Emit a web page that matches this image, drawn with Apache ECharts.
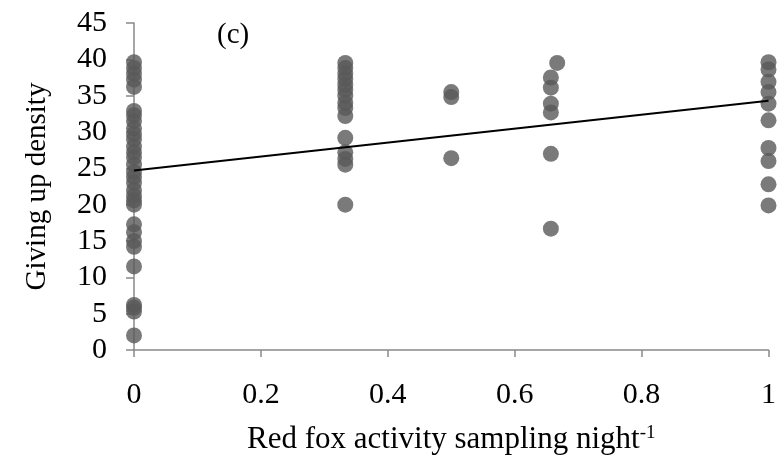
<!DOCTYPE html>
<html>
<head>
<meta charset="utf-8">
<script src="https://cdn.jsdelivr.net/npm/echarts@6/dist/echarts.min.js"></script>
<style>html,body{margin:0;padding:0;background:#fff;}#c{width:779px;height:460px;}</style>
</head>
<body>
<div id="c"></div>
<script>
// Fox activity levels (x) and giving up densities (y)
const x0 = 0;
const y0 = [39.6, 38.8, 38, 37.2, 36.2, 32.9, 32.3, 31.5, 30.5, 29.7, 29, 28, 27.2, 26.5, 25.5, 24.5, 23.8, 23, 22, 21.2, 20.6, 20, 17.3, 16.2, 15, 14.2, 11.5, 6.2, 5.8, 5.3, 2.0];
const x1 = 0.333;
const y1 = [39.5, 38.8, 38, 37.3, 36.5, 35.8, 35, 34, 33.3, 32.2, 29.2, 27.2, 26.3, 25.5, 20];
const x2 = 0.5;
const y2 = [35.5, 34.8, 26.4];
const x3 = 0.657;
const y3 = [37.5, 36.1, 33.9, 32.7, 27.0, 16.7];
const x4 = 0.667;
const y4 = [39.5];
const x5 = 1;
const y5 = [39.6, 38.6, 36.9, 35.5, 33.9, 31.6, 27.8, 26.0, 22.8, 19.9];
const trendX = [0, 1];
const trendY = [24.7, 34.3];
const xTicks = [0, 0.2, 0.4, 0.6, 0.8, 1];
const yTicks = [0, 5, 10, 15, 20, 25, 30, 35, 40, 45];

const groups = [[x0, y0], [x1, y1], [x2, y2], [x3, y3], [x4, y4], [x5, y5]];
const pts = [];
groups.forEach(([x, ys]) => ys.forEach(y => pts.push([x, y])));

const font = '"Liberation Serif", "Times New Roman", serif';
const chart = echarts.init(document.getElementById('c'));
chart.setOption({
  animation: false,
  backgroundColor: '#fff',
  grid: { left: 134, right: 7, top: 23, bottom: 105 },
  xAxis: {
    type: 'value', min: 0, max: 1, interval: 0.2,
    axisLine: { lineStyle: { color: '#898989', width: 1.5 } },
    axisTick: { show: true, length: 7, lineStyle: { color: '#898989', width: 1.5 } },
    splitLine: { show: false },
    axisLabel: { color: '#000', fontFamily: font, fontSize: 30, margin: 30,
      formatter: v => { const s = xTicks.find(t => Math.abs(t - v) < 1e-9); return s === undefined ? '' : String(s); } },
    name: '{a|Red fox activity sampling night}{s|-1}',
    nameLocation: 'middle', nameGap: 74,
    nameTextStyle: { rich: {
      a: { fontFamily: font, fontSize: 31, color: '#000' },
      s: { fontFamily: font, fontSize: 19, color: '#000', verticalAlign: 'top', padding: [0, 0, 12, 0] }
    } }
  },
  yAxis: {
    type: 'value', min: 0, max: 45, interval: 5,
    axisLine: { show: true, lineStyle: { color: '#898989', width: 1.5 } },
    axisTick: { show: true, length: 8, lineStyle: { color: '#898989', width: 1.5 } },
    splitLine: { show: false },
    axisLabel: { color: '#000', fontFamily: font, fontSize: 30, margin: 27, padding: [7, 0, 0, 0],
      formatter: v => String(yTicks.find(t => t === v) ?? v) },
    name: 'Giving up density', nameLocation: 'middle', nameGap: 82, nameRotate: 90,
    nameTextStyle: { fontFamily: font, fontSize: 29, color: '#000' }
  },
  graphic: [{ type: 'text', left: 217, top: 21, style: { text: '(c)', font: '29px ' + font, fill: '#000' } }],
  series: [
    { type: 'scatter', data: pts, symbolSize: 16, itemStyle: { color: '#595959' }, z: 2 },
    { type: 'line', data: trendX.map((x, i) => [x, trendY[i]]), showSymbol: false, symbol: 'none',
      lineStyle: { color: '#000', width: 2 }, z: 3 }
  ]
});
</script>
</body>
</html>
